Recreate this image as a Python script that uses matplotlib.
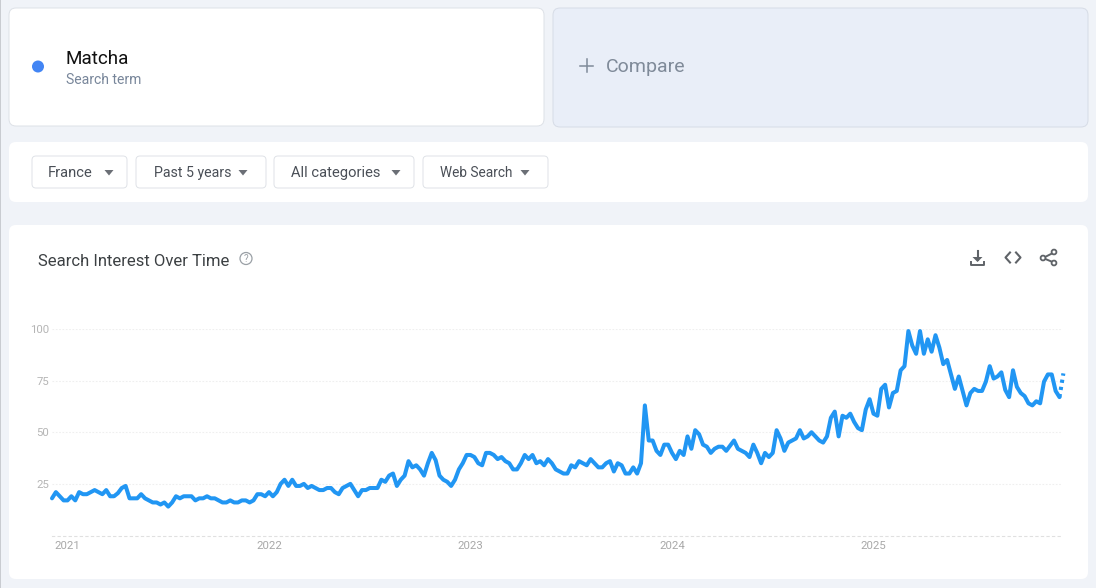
# Imports
import numpy as np
import matplotlib
matplotlib.use('Agg')
import matplotlib.pyplot as plt
from matplotlib.patches import FancyBboxPatch, Circle, Polygon, Rectangle

plt.rcParams['font.family'] = ['Roboto', 'DejaVu Sans']

#-------------------
#       DATA
#-------------------
# weekly values
interest_2021 = [18, 21, 19, 17, 17, 19, 17, 21, 20, 20, 21, 22, 21, 20, 22, 19, 19, 20.5, 23, 24,
                 18, 18, 18, 20, 18, 17, 16, 16, 15, 16, 14, 16, 19, 18, 19, 19, 19, 17, 18, 18,
                 19, 18, 18, 17, 16, 16, 17, 16, 16, 17, 17, 16]
interest_2022 = [17, 20, 20, 19, 21, 19, 21, 25, 27, 24, 27, 24, 24, 25, 23, 24, 23, 22, 22, 23,
                 23, 21, 20, 23, 24, 25, 22, 19, 22, 22, 23, 23, 23, 27, 26, 29, 30,
                 24, 27, 29, 36, 33, 34, 32, 29, 35, 40, 36.5, 29, 27, 26, 24]
interest_2023 = [27, 32, 35, 39, 39, 38, 35, 34, 40, 40, 39, 37, 38, 36, 35, 32, 32,
                 35, 39, 37, 39, 35, 36, 34, 37, 35, 32, 31, 30, 30, 34, 33, 36, 35, 34, 37, 35,
                 33, 33, 35, 36, 31, 35, 34, 30, 30, 33, 30, 35, 63, 46, 46]
interest_2024 = [41, 39, 44, 44, 40, 37, 41, 39, 48, 42, 51, 49, 44, 43, 40, 42, 43,
                 43, 41, 43.5, 46, 42, 41, 40, 38, 44, 40, 35, 40, 38, 40, 51, 47, 41, 45, 46, 47, 51,
                 47, 48, 50, 48, 46, 45, 48, 57, 60, 48, 58, 57, 59, 55]
interest_2025 = [52, 51, 61, 66, 59, 58, 71, 73, 62, 69, 70, 80, 82, 99, 92, 88, 99, 88,
                 95, 89, 97, 91, 83, 85, 78, 71, 77, 70, 63, 69, 71, 70, 70, 74.5, 82, 76, 77, 79,
                 70.5, 67, 80, 72, 69, 67.5, 64, 63, 65, 64, 74.5, 78, 78, 70, 67]
partial_week = 78.5

year_labels = ['2021', '2022', '2023', '2024', '2025']
year_weeks = [4, 56, 108, 160, 212]
y_ticks = [25, 50, 75, 100]

filter_labels = ['France', 'Past 5 years', 'All categories', 'Web Search']

interest = np.array(interest_2021 + interest_2022 + interest_2023 + interest_2024 + interest_2025)
weeks = np.arange(len(interest))

#-------------------
#     PAGE LAYER
#-------------------
W, H = 1096, 588
fig = plt.figure(figsize=(W / 100, H / 100), dpi=100, facecolor='#f0f3f8')

page = fig.add_axes([0, 0, 1, 1], zorder=0)
page.set_xlim(0, W)
page.set_ylim(H, 0)
page.axis('off')


def card(x0, y0, x1, y1, color='white', edge='none', radius=7, lw=0.7):
    page.add_patch(FancyBboxPatch((x0 + radius, y0 + radius), x1 - x0 - 2 * radius, y1 - y0 - 2 * radius,
                                  boxstyle='round,pad=%d,rounding_size=%d' % (radius, radius),
                                  fc=color, ec=edge, lw=lw))


page.add_patch(Rectangle((0, 0), 1.2, H, fc='#c9ccd1', ec='none'))

card(9, 8, 544, 126, edge='#dde1e7')
card(553, 8, 1088, 127, color='#e9eef8', edge='#d6dce6')
card(9, 142, 1088, 202)
card(9, 225, 1088, 579)

page.add_patch(Circle((38, 66.5), 6, fc='#4285f4', ec='none'))
page.text(65.5, 59, 'Matcha', fontsize=13.6, color='#111111', va='center')
page.text(65.5, 80.5, 'Search term', fontsize=10.1, color='#78869a', va='center')

page.plot([580, 593], [65.5, 65.5], color='#7f8a99', lw=1.1)
page.plot([586.5, 586.5], [59, 72], color='#7f8a99', lw=1.1)
page.text(606, 67, 'Compare', fontsize=14, color='#7f8a99', va='center')

# filter buttons
button_x0 = [32, 136, 274, 423]
button_x1 = [127, 266, 414, 548]
text_x = [48, 154, 291, 440]
arrow_x = [109, 243, 396, 525]
text_size = [10.6, 10.2, 10.6, 9.8]
for label, x0, x1, tx, ax_, fs in zip(filter_labels, button_x0, button_x1, text_x, arrow_x, text_size):
    card(x0, 156, x1, 188, edge='#dfe2e7', radius=4)
    page.text(tx, 173, label, fontsize=fs, color='#4a4f57', va='center')
    page.add_patch(Polygon([[ax_ - 4.5, 170], [ax_ + 4.5, 170], [ax_, 175.5]], fc='#6b6f76', ec='none'))

page.text(38, 261, 'Search Interest Over Time', fontsize=12, color='#3c4043', va='center')
page.add_patch(Circle((246, 258.5), 6, fc='none', ec='#9aa0a6', lw=0.9))
page.text(246, 258.7, '?', fontsize=7, color='#9aa0a6', ha='center', va='center')

# download, embed and share icons
icon = '#5f6368'
page.plot([977.5, 977.5], [251, 260], color=icon, lw=1.5)
page.add_patch(Polygon([[972.5, 257], [982.5, 257], [977.5, 262]], fc=icon, ec='none'))
page.plot([971, 971, 984, 984], [262, 265, 265, 262], color=icon, lw=1.4)
page.plot([1010, 1005.5, 1010], [252.5, 257.5, 262.5], color=icon, lw=1.5)
page.plot([1016, 1020.5, 1016], [252.5, 257.5, 262.5], color=icon, lw=1.5)
page.plot([1055, 1043, 1055], [252, 258, 263], color=icon, lw=1.4)
for cx, cy in [(1054, 252), (1043, 258), (1054, 263)]:
    page.add_patch(Circle((cx, cy), 2.4, fc='white', ec=icon, lw=1.3, zorder=3))

#-------------------
#       CHART
#-------------------
px_left = 52
px_week = 3.875
px_right = 1061
px_y0, px_y100 = 535.5, 329

ax = fig.add_axes([px_left / W, (H - px_y0) / H, (px_right - px_left) / W, (px_y0 - px_y100) / H], zorder=1)
ax.patch.set_alpha(0)
ax.set_xlim(0, (px_right - px_left) / px_week)
ax.set_ylim(0, 100)

for s in ax.spines.values():
    s.set_visible(False)
ax.spines['bottom'].set_visible(True)
ax.spines['bottom'].set_color('#e0e0e0')
ax.spines['bottom'].set_linestyle((0, (2, 3)))
ax.spines['bottom'].set_linewidth(0.8)

ax.set_yticks(y_ticks)
ax.set_yticklabels([str(v) for v in y_ticks], fontsize=8.2, color='#b5b5b5')
ax.set_xticks(year_weeks)
ax.set_xticklabels(year_labels, fontsize=8.2, color='#a8a8a8')
ax.tick_params(axis='both', length=0)
ax.tick_params(axis='y', pad=2.2)
ax.tick_params(axis='x', pad=4)
ax.grid(axis='y', color='#efefef', lw=0.8, ls=(0, (1.5, 1.5)))
ax.set_axisbelow(True)

ax.plot(weeks, interest, color='#2196f3', lw=2.9, solid_joinstyle='round', solid_capstyle='round', clip_on=False)
ax.plot([weeks[-1], weeks[-1] + 1], [interest[-1], partial_week], color='#2196f3', lw=2.9,
        ls=(0, (0.8, 1.0)), clip_on=False)

plt.savefig('out.png', dpi=100, facecolor=fig.get_facecolor())
